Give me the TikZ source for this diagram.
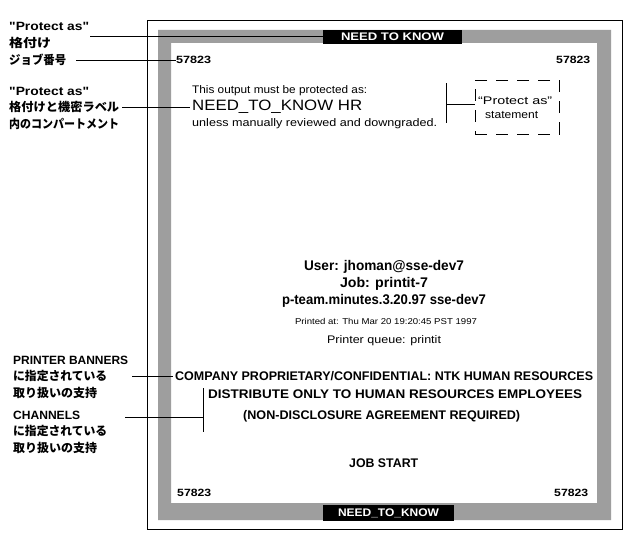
\documentclass[tikz,border=0pt]{standalone}
\usepackage{fontspec}
\usepackage{graphicx}
\setmainfont{Liberation Sans}[Ligatures=TeXOff]
\newfontfamily\jpfont{Noto Sans CJK JP}
\newsavebox\fitbox
\newcommand\fitw[2]{\sbox\fitbox{#2}\pgfmathsetmacro\fitsx{#1/\the\wd\fitbox}\scalebox{\fitsx}[1]{\usebox\fitbox}}
\newcommand\fsz[1]{\fontsize{#1}{#1}\selectfont}
\begin{document}
\begin{tikzpicture}[x=1pt,y=-1pt,
  txt/.style={inner sep=0pt, anchor=west},
  lblb/.style={txt, font=\bfseries\fsz{12}},
  lblj/.style={txt, font=\jpfont\bfseries\fsz{12}},
  bnum/.style={txt, font=\bfseries\fsz{10.5}},
  reg/.style={txt, font=\fsz{11}},
  bigb/.style={txt, font=\bfseries\fsz{12.5}},
  hdb/.style={font=\bfseries\fsz{14}, inner sep=0pt},
  ln/.style={line width=0.8pt},
  banner/.style={fill=black, text=white, inner sep=0pt, font=\bfseries\fsz{11}}]
\useasboundingbox (0,0) rectangle (636,543);
\fill[white] (0,0) rectangle (636,543);
% page
\draw[line width=1pt] (147,21) rectangle (622,529);
\fill[black!38,even odd rule] (158,30) rectangle (611,520) (171,43) rectangle (597,503);
% banners
\node[banner, minimum width=139pt, minimum height=14pt] (topban) at (392.5,37) {\fitw{103}{NEED TO KNOW}};
\node[banner, minimum width=131pt, minimum height=16pt] (botban) at (388.5,513) {\fitw{101}{NEED\_TO\_KNOW}};
% job numbers
\node[bnum] (num1) at (176,60) {\fitw{35}{57823}};
\node[bnum] (num2) at (556,60) {\fitw{34}{57823}};
\node[bnum] (num3) at (177,493) {\fitw{34}{57823}};
\node[bnum] (num4) at (554,493) {\fitw{34}{57823}};
% protect-as statement
\node[reg] (this) at (192,91) {\fitw{175}{This output must be protected as:}};
\node[txt, font=\fsz{15}] (need) at (192,107) {\fitw{170}{NEED\_TO\_KNOW HR}};
\node[reg] (unless) at (192,124) {\fitw{245}{unless manually reviewed and downgraded.}};
\node[draw, dash pattern=on 12pt off 9pt, line width=0.8pt, minimum width=84pt, minimum height=54pt, inner sep=0pt] (stmt) at (517,107) {};
\node[reg] (st1) at (478,101) {\fitw{74}{“Protect as”}};
\node[reg] (st2) at (485,115) {\fitw{53}{statement}};
\coordinate (b1top) at (446,83);
\coordinate (b1bot) at (446,123);
\coordinate (b1mid) at (446,104);
\draw[ln] (b1top) -- (b1bot);
\draw[ln] (b1mid) -- (b1mid -| stmt.west);
% center block
\node[hdb] (user) at (384,267) {\fitw{160}{User: jhoman@sse-dev7}};
\node[hdb] (job) at (384,284) {\fitw{88}{Job: printit-7}};
\node[hdb] (file) at (384,301) {\fitw{204}{p-team.minutes.3.20.97 sse-dev7}};
\node[font=\fsz{8.5}, inner sep=0pt] (printed) at (386,321) {\fitw{182}{Printed at: Thu Mar 20 19:20:45 PST 1997}};
\node[font=\fsz{11}, inner sep=0pt] (queue) at (384,341) {\fitw{114}{Printer queue: printit}};
\node[bigb] (comp) at (175,376) {\fitw{418}{COMPANY PROPRIETARY/CONFIDENTIAL: NTK HUMAN RESOURCES}};
\node[bigb] (dist) at (208,394) {\fitw{374}{DISTRIBUTE ONLY TO HUMAN RESOURCES EMPLOYEES}};
\node[bigb] (nda) at (243,416) {\fitw{277}{(NON-DISCLOSURE AGREEMENT REQUIRED)}};
\node[bigb] (start) at (349,463) {\fitw{69}{JOB START}};
% left labels
\node[lblb] (pa1) at (9,26) {\fitw{80}{"Protect as"}};
\node[lblj] (kaku1) at (9,43) {\fitw{42}{格付け}};
\node[lblj] (jobno) at (9,60) {\fitw{57}{ジョブ番号}};
\node[lblb] (pa2) at (9,91) {\fitw{80}{"Protect as"}};
\node[lblj] (kaku2) at (9,107) {\fitw{110}{格付けと機密ラベル}};
\node[lblj] (comp2) at (9,124) {\fitw{110}{内のコンパートメント}};
\node[lblb] (pb) at (13,360) {\fitw{115}{PRINTER BANNERS}};
\node[lblj] (pb2) at (13,376) {\fitw{94}{に指定されている}};
\node[lblj] (pb3) at (13,393) {\fitw{84}{取り扱いの支持}};
\node[lblb] (ch) at (13,415) {\fitw{67}{CHANNELS}};
\node[lblj] (ch2) at (13,431) {\fitw{94}{に指定されている}};
\node[lblj] (ch3) at (13,448) {\fitw{84}{取り扱いの支持}};
% connectors
\coordinate (c1) at (90,36);
\draw[ln] (c1) -- (c1 -| topban.west);
\coordinate (c2) at (76,60);
\draw[ln] (c2) -- (c2 -| num1.west);
\coordinate (c3) at (122,107);
\draw[ln] (c3) -- ([xshift=-2pt]c3 -| need.west);
\coordinate (c4) at (132,376);
\draw[ln] (c4) -- ([xshift=-2pt]c4 -| comp.west);
\coordinate (b2top) at (203,388);
\coordinate (b2bot) at (203,432);
\coordinate (b2mid) at (203,417);
\coordinate (c5) at (125,417);
\draw[ln] (b2top) -- (b2bot);
\draw[ln] (c5) -- (b2mid);
\end{tikzpicture}
\end{document}
